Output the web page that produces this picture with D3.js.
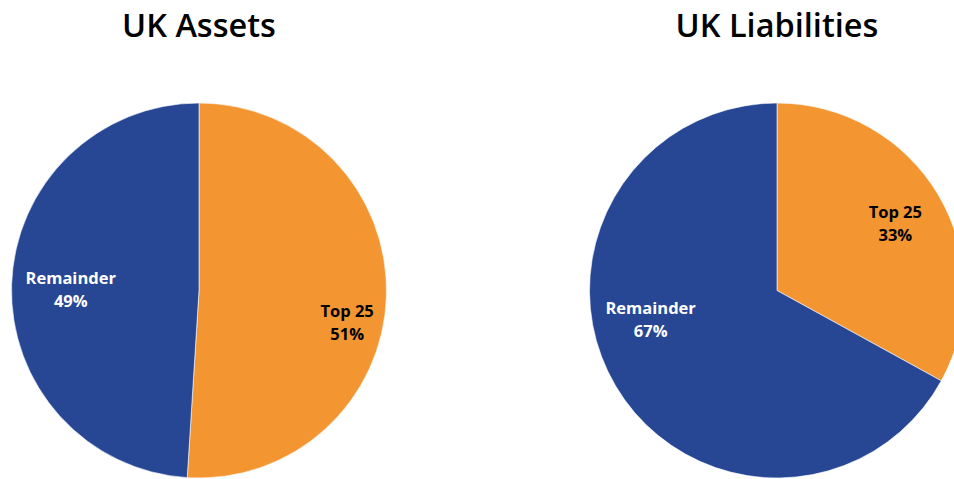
<!DOCTYPE html>
<html lang="en">
  <head>
    <meta charset="UTF-8" />
    <title>UK Assets and Liabilities</title>
    <script src="https://d3js.org/d3.v7.min.js"></script>
    <style>
      body {
        margin: 0;
        background: #fff;
        font-family: "Open Sans", sans-serif;
      }
    </style>
  </head>
  <body>
    <svg id="chart" width="954" height="479"></svg>
    <script>
      const titles = ["UK Assets", "UK Liabilities"];
      const categories = ["Top 25", "Remainder"];
      const assetValues = [51, 49];
      const liabilityValues = [33, 67];
      const colors = ["#f39531", "#274795"];
      const labelColors = ["#000", "#fff"];

      // label offsets in units of radius, tuned by eye
      const labelOffsets = [
        [[0.79, 0.17], [-0.684, -0.01]],
        [[0.631, -0.361], [-0.674, 0.15]],
      ];

      const svg = d3.select("#chart");
      const radius = 187.5;
      const centers = [199, 777];
      const cy = 290.5;

      const pie = d3.pie().sort(null).value((d) => d.value);
      const arc = d3.arc().innerRadius(0).outerRadius(radius);

      [assetValues, liabilityValues].forEach((vals, k) => {
        const data = categories.map((c, i) => ({ name: c, value: vals[i], i }));

        svg
          .append("text")
          .attr("x", centers[k])
          .attr("y", 37)
          .attr("text-anchor", "middle")
          .attr("font-size", 32.5)
          .attr("font-weight", 600)
          .attr("fill", "#000")
          .text(titles[k]);

        const g = svg
          .append("g")
          .attr("transform", `translate(${centers[k]},${cy})`);

        g.selectAll("path")
          .data(pie(data))
          .join("path")
          .attr("d", arc)
          .attr("fill", (d) => colors[d.data.i])
          .attr("stroke", "#fff")
          .attr("stroke-width", 0.6);

        const lbl = g
          .selectAll("text")
          .data(pie(data))
          .join("text")
          .attr("text-anchor", "middle")
          .attr("font-size", 16.5)
          .attr("font-weight", 700)
          .attr("fill", (d) => labelColors[d.data.i])
          .attr("transform", (d) => {
            const o = labelOffsets[k][d.data.i];
            return `translate(${o[0] * radius},${o[1] * radius})`;
          });
        lbl.append("tspan").attr("x", 0).attr("y", -5).text((d) => d.data.name);
        lbl
          .append("tspan")
          .attr("x", 0)
          .attr("y", 18)
          .text((d) => d.data.value + "%");
      });
    </script>
  </body>
</html>
